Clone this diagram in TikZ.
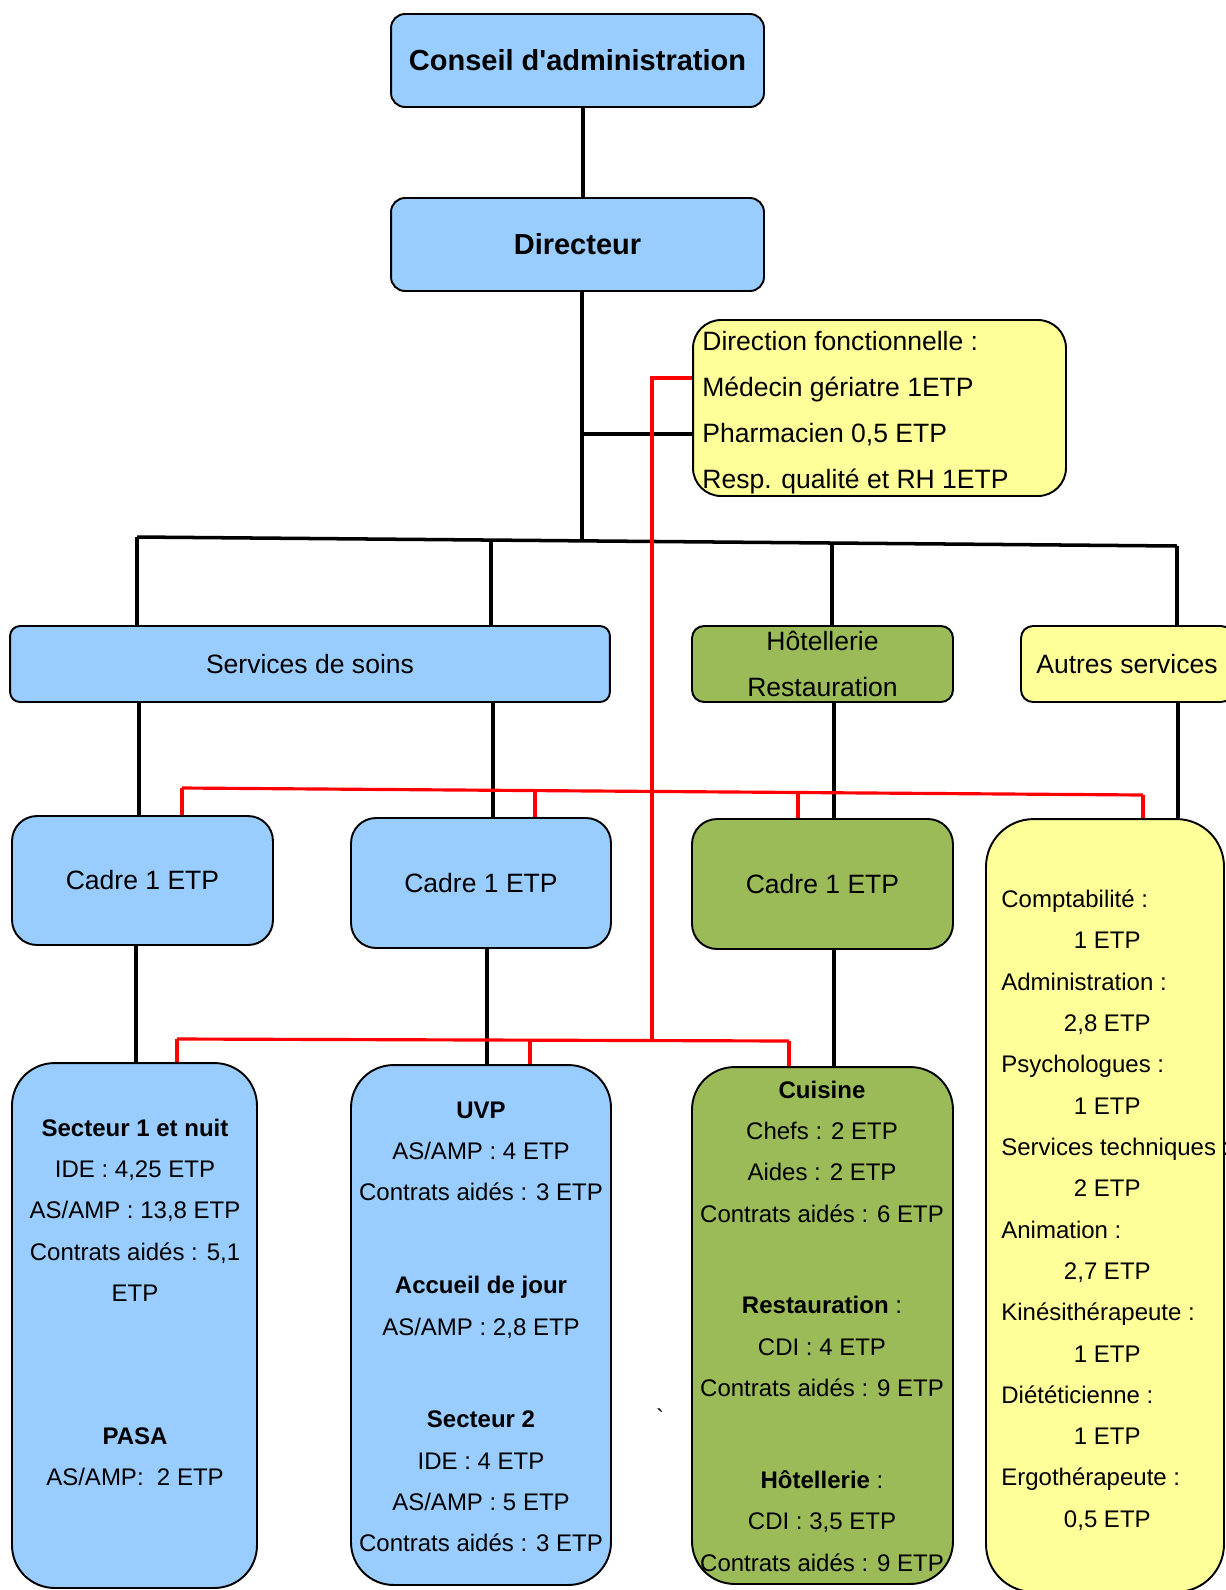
\documentclass[tikz,border=0pt]{standalone}
\usepackage{fontspec}
\setmainfont{Liberation Sans}[Ligatures=TeXOff]
\definecolor{soinsblue}{HTML}{99CCFF}
\definecolor{hotelgreen}{HTML}{9BBB59}
\definecolor{autrepale}{HTML}{FFFF99}
\newcommand{\listval}[1]{\hspace*{2.12cm}\makebox[0pt]{#1}}
\tikzset{
  unit/.style={draw, line width=1.1pt, inner sep=0pt},
  bluebox/.style={unit, fill=soinsblue},
  greenbox/.style={unit, fill=hotelgreen},
  yellowbox/.style={unit, fill=autrepale},
  bigfont/.style={font=\fontsize{16.5pt}{20pt}\selectfont\bfseries},
  midfont/.style={font=\fontsize{15.1pt}{26.2pt}\selectfont},
  smallfont/.style={font=\fontsize{13.66pt}{23.52pt}\selectfont},
  boxtext/.style={inner sep=0pt},
  link/.style={line width=2pt},
  redlink/.style={line width=1.8pt, red}
}
\begin{document}
\begin{tikzpicture}[x=0.02cm,y=-0.02cm]
  \useasboundingbox (0,0) rectangle (1226,1590);
  \fill[white] (0,0) rectangle (1226,1590);

  % top
  \node[bluebox, bigfont, rounded corners=0.28cm, minimum width=7.46cm, minimum height=1.86cm] (conseil) at (577.5,60.5) {Conseil d'administration};
  \node[bluebox, bigfont, rounded corners=0.28cm, minimum width=7.46cm, minimum height=1.86cm] (director) at (577.5,244.5) {Directeur};
  \node[yellowbox, rounded corners=0.56cm, minimum width=7.46cm, minimum height=3.52cm] (dirfonct) at (879.5,408) {};
  \node[boxtext, midfont, align=left, anchor=north west] (dirfonctxt) at (702,330.5) {Direction fonctionnelle :\\Médecin gériatre 1ETP\\Pharmacien 0,5 ETP\\Resp. qualité et RH 1ETP};

  % services
  \node[bluebox, midfont, rounded corners=0.2cm, minimum width=12cm, minimum height=1.52cm] (soins) at (310,664) {Services de soins};
  \node[greenbox, midfont, align=center, rounded corners=0.24cm, minimum width=5.22cm, minimum height=1.52cm] (hotel) at (822.5,664) {Hôtellerie\\Restauration};
  \node[yellowbox, midfont, rounded corners=0.24cm, minimum width=4.24cm, minimum height=1.52cm] (autres) at (1127,664) {Autres services};

  % cadres
  \node[bluebox, midfont, rounded corners=0.5cm, minimum width=5.22cm, minimum height=2.58cm] (cadre1) at (142.5,880.5) {Cadre 1 ETP};
  \node[bluebox, midfont, rounded corners=0.5cm, minimum width=5.2cm, minimum height=2.6cm] (cadre2) at (481,883) {Cadre 1 ETP};
  \node[greenbox, midfont, rounded corners=0.5cm, minimum width=5.22cm, minimum height=2.6cm] (cadre3) at (822.5,884) {Cadre 1 ETP};
  \node[yellowbox, rounded corners=0.95cm, minimum width=4.76cm, minimum height=15.46cm] (autlist) at (1105,1205.5) {};
  \node[boxtext, smallfont, align=left, anchor=north west] (autlisttxt) at (1001,889.4) {Comptabilité :\\\listval{1 ETP}\\Administration :\\\listval{2,8 ETP}\\Psychologues :\\\listval{1 ETP}\\Services techniques :\\\listval{2 ETP}\\Animation :\\\listval{2,7 ETP}\\Kinésithérapeute :\\\listval{1 ETP}\\Diététicienne :\\\listval{1 ETP}\\Ergothérapeute :\\\listval{0,5 ETP}};

  % secteurs
  \node[bluebox, rounded corners=0.85cm, minimum width=4.9cm, minimum height=10.5cm] (sect1) at (134.5,1325.5) {};
  \node[boxtext, smallfont, align=center, anchor=north] (sect1txt) at (135,1118.4) {\textbf{Secteur 1 et nuit}\\IDE : 4,25 ETP\\AS/AMP : 13,8 ETP\\Contrats aidés : 5,1\\ETP\\[2.03cm]\textbf{PASA}\\AS/AMP:\ \ 2 ETP};
  \node[bluebox, rounded corners=0.85cm, minimum width=5.2cm, minimum height=10.4cm] (uvp) at (481,1325) {};
  \node[boxtext, smallfont, align=center, anchor=north] (uvptxt) at (481,1101.4) {\textbf{UVP}\\AS/AMP : 4 ETP\\Contrats aidés : 3 ETP\\[1.03cm]\textbf{Accueil de jour}\\AS/AMP : 2,8 ETP\\[1.03cm]\textbf{Secteur 2}\\IDE : 4 ETP\\AS/AMP : 5 ETP\\Contrats aidés : 3 ETP};
  \node[greenbox, rounded corners=0.85cm, minimum width=5.22cm, minimum height=10.34cm] (cuisine) at (822.5,1325.5) {};
  \node[boxtext, smallfont, align=center, anchor=north] (cuisinetxt) at (822,1080.4) {\textbf{Cuisine}\\Chefs : 2 ETP\\Aides : 2 ETP\\Contrats aidés : 6 ETP\\[1.01cm]\textbf{Restauration} :\\CDI : 4 ETP\\Contrats aidés : 9 ETP\\[1.01cm]\textbf{Hôtellerie} :\\CDI : 3,5 ETP\\Contrats aidés : 9 ETP};
  \node[boxtext, smallfont] (tick) at (660,1418) {\symbol{96}};

  % black links
  \draw[link] (583,0 |- conseil.south) -- (583,0 |- director.north);
  \draw[link] (582,0 |- director.south) -- (582,541);
  \draw[link] (582,434) -- (dirfonct.west |- 0,434);
  \coordinate (busL) at (137,537);
  \coordinate (busR) at (1177,546);
  \draw[link] (busL) -- (busR);
  \foreach \x/\y/\n in {137/537/soins, 491/540/soins, 832/543/hotel, 1177/546/autres}
    \draw[link] (\x,\y) -- (\x,0 |- \n.north);
  \foreach \x/\a/\b in {139/soins/cadre1, 493/soins/cadre2, 834/hotel/cadre3, 1178/autres/autlist, 136/cadre1/sect1, 487/cadre2/uvp, 834/cadre3/cuisine}
    \draw[link] (\x,0 |- \a.south) -- (\x,0 |- \b.north);

  % red links
  \draw[redlink] (dirfonct.west |- 0,378) -| (652,1040);
  \coordinate (redtopL) at (182,788);
  \coordinate (redtopR) at (1143,795);
  \draw[redlink] (redtopL) -- (redtopR);
  \foreach \x/\y/\b in {182/788/cadre1, 535/791/cadre2, 798/792/cadre3, 1143/795/autlist}
    \draw[redlink] (\x,\y) -- (\x,0 |- \b.north);
  \coordinate (redlowL) at (177,1039);
  \coordinate (redlowR) at (789,1041);
  \draw[redlink] (redlowL) -- (redlowR);
  \foreach \x/\y/\b in {177/1039/sect1, 530/1040/uvp, 789/1041/cuisine}
    \draw[redlink] (\x,\y) -- (\x,0 |- \b.north);
\end{tikzpicture}
\end{document}
